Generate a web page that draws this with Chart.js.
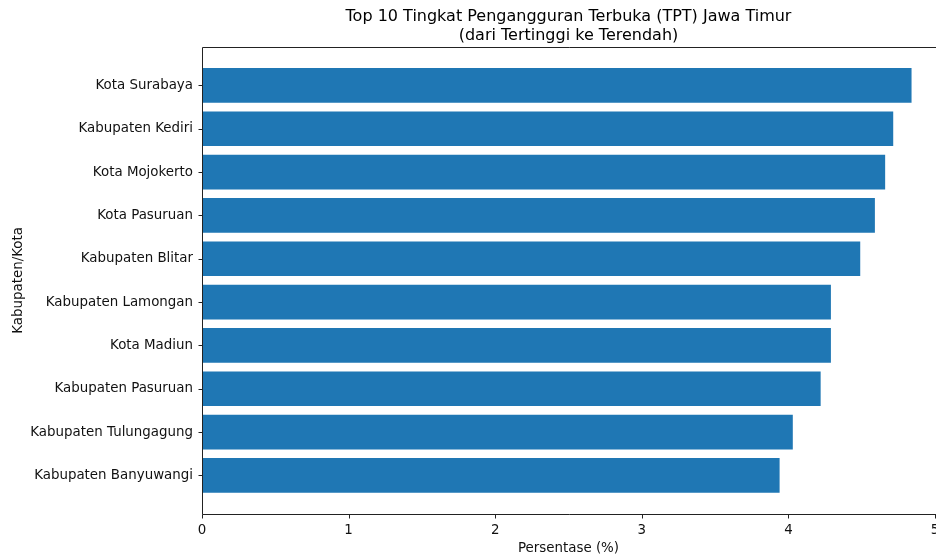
<!DOCTYPE html>
<html>
<head>
<meta charset="utf-8">
<script src="https://cdn.jsdelivr.net/npm/chart.js@4"></script>
<style>
  html, body { margin: 0; padding: 0; background: #fff; overflow: hidden; }
  #wrap { width: 948px; height: 557px; }
</style>
</head>
<body>
<div id="wrap"><canvas id="tpt"></canvas></div>
<script>
// data
var kabupatenKota = [
  "Kota Surabaya",
  "Kabupaten Kediri",
  "Kota Mojokerto",
  "Kota Pasuruan",
  "Kabupaten Blitar",
  "Kabupaten Lamongan",
  "Kota Madiun",
  "Kabupaten Pasuruan",
  "Kabupaten Tulungagung",
  "Kabupaten Banyuwangi"
];
var nilaiTPT = [4.84, 4.715, 4.66, 4.59, 4.49, 4.29, 4.29, 4.22, 4.03, 3.94];
var xTicks = [0, 1, 2, 3, 4, 5];

var font = "'DejaVu Sans', sans-serif";
var ink = '#222';
var tickLen = 4;

var points = nilaiTPT.map(function (v, i) { return { x: v, y: i }; });

// spines and outward tick marks, matplotlib style
var framePlugin = {
  id: 'frame',
  afterDraw: function (chart) {
    var a = chart.chartArea, c = chart.ctx;
    var L = Math.round(a.left) + 0.5, B = Math.round(a.bottom) + 0.5, T = Math.round(a.top) + 0.5;
    c.save();
    c.strokeStyle = ink;
    c.lineWidth = 1;
    c.beginPath();
    c.moveTo(L, T); c.lineTo(a.right + 2, T);
    c.moveTo(L, T); c.lineTo(L, B);
    c.moveTo(L, B); c.lineTo(a.right + 2, B);
    chart.scales.x.ticks.forEach(function (t) {
      var px = Math.round(chart.scales.x.getPixelForValue(t.value)) + 0.5;
      c.moveTo(px, B); c.lineTo(px, B + tickLen);
    });
    chart.scales.y.ticks.forEach(function (t) {
      var py = Math.round(chart.scales.y.getPixelForValue(t.value)) + 0.5;
      c.moveTo(L, py); c.lineTo(L - tickLen, py);
    });
    c.stroke();
    c.restore();
  }
};

var ctx = document.getElementById('tpt');
new Chart(ctx, {
  type: 'bar',
  data: {
    datasets: [{
      label: 'TPT',
      data: points,
      backgroundColor: '#1f77b4',
      borderWidth: 0,
      categoryPercentage: 1.0,
      barPercentage: 0.8
    }]
  },
  options: {
    indexAxis: 'y',
    responsive: true,
    maintainAspectRatio: false,
    animation: false,
    layout: { padding: { top: 8, right: 13, left: 0, bottom: 0 } },
    plugins: {
      legend: { display: false },
      tooltip: { enabled: false },
      title: {
        display: true,
        fullSize: false,
        text: ['Top 10 Tingkat Pengangguran Terbuka (TPT) Jawa Timur', '(dari Tertinggi ke Terendah)'],
        color: '#000',
        font: { family: font, size: 16, weight: 'normal', lineHeight: 1.15 },
        padding: { top: 0, bottom: 2 }
      }
    },
    scales: {
      x: {
        type: 'linear',
        min: 0,
        max: 5,
        afterBuildTicks: function (axis) {
          axis.ticks = xTicks.map(function (v) { return { value: v }; });
        },
        afterFit: function (axis) { axis.height = 43; },
        grid: { display: false },
        border: { display: false },
        ticks: { color: '#111', font: { family: font, size: 13.4 }, padding: 0, maxRotation: 0 },
        title: {
          display: true,
          text: 'Persentase (%)',
          color: '#111',
          font: { family: font, size: 13.4 },
          padding: { top: 0, bottom: 0 }
        }
      },
      y: {
        type: 'linear',
        reverse: true,
        offset: false,
        min: -0.89,
        max: 9.89,
        afterBuildTicks: function (axis) {
          axis.ticks = kabupatenKota.map(function (n, i) { return { value: i }; });
        },
        afterFit: function (axis) { axis.width = 202; },
        grid: { display: false },
        border: { display: false },
        ticks: {
          color: '#111',
          font: { family: font, size: 13.4 },
          padding: 1,
          callback: function (v) { return kabupatenKota[v]; }
        },
        title: {
          display: true,
          text: 'Kabupaten/Kota',
          color: '#111',
          font: { family: font, size: 13.4 },
          padding: { top: 10, bottom: 0 }
        }
      }
    }
  },
  plugins: [framePlugin]
});
</script>
</body>
</html>
